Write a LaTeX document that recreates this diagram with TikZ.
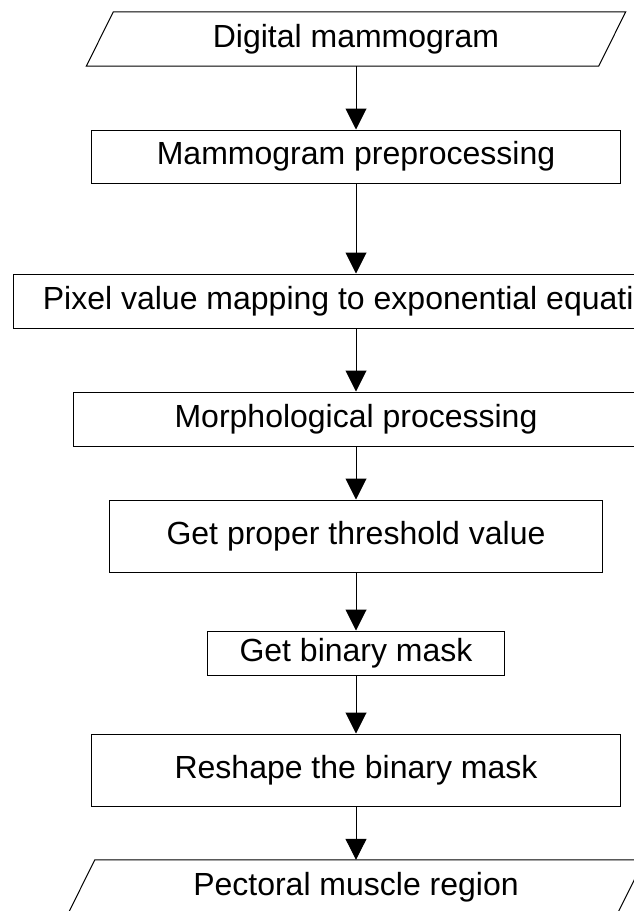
\documentclass[tikz,border=0pt]{standalone}
\usepackage{fontspec}
\setmainfont{Liberation Sans}
\usetikzlibrary{arrows.meta}

\begin{document}
\begin{tikzpicture}[x=1pt, y=-1pt,
  every node/.style={font=\fontsize{32}{38}\selectfont, inner sep=0pt},
  stepbox/.style={draw=black, line width=1pt, rectangle, minimum width=#1},
  iobody/.style={rectangle, minimum width=#1, minimum height=54pt},
  frame/.style={draw=black, line width=1pt},
  flow/.style={draw=black, line width=1pt, -{Triangle[length=21pt, width=21pt]}}
]
\useasboundingbox (0,0) rectangle (634,911);
\clip (0,0) rectangle (634,911);

% process steps
\node[iobody=512pt] (in) at (356,39) {Digital mammogram};
\node[stepbox=529pt, minimum height=53pt] (pre) at (356,156.5) {Mammogram preprocessing};
\node[stepbox=685pt, minimum height=54pt] (pix) at (356,301) {Pixel value mapping to exponential equation};
\node[stepbox=565pt, minimum height=54pt] (mor) at (356,419) {Morphological processing};
\node[stepbox=493pt, minimum height=72pt] (thr) at (356,536) {Get proper threshold value};
\node[stepbox=297pt, minimum height=44pt] (bin) at (356,653) {Get binary mask};
\node[stepbox=529pt, minimum height=72pt] (res) at (356,770) {Reshape the binary mask};
\node[iobody=549pt] (out) at (356,887) {Pectoral muscle region};

% input / output parallelograms
\foreach \n in {in,out}{
  \draw[frame] ([xshift=-13.5pt]\n.south west) -- ([xshift=13.5pt]\n.north west)
    -- ([xshift=13.5pt]\n.north east) -- ([xshift=-13.5pt]\n.south east) -- cycle;
}

% connectors
\draw[flow] (in) -- (pre);
\draw[flow] (pre) -- (pix);
\draw[flow] (pix) -- (mor);
\draw[flow] (mor) -- (thr);
\draw[flow] (thr) -- (bin);
\draw[flow] (bin) -- (res);
\draw[flow] (res) -- (out);
\end{tikzpicture}
\end{document}
